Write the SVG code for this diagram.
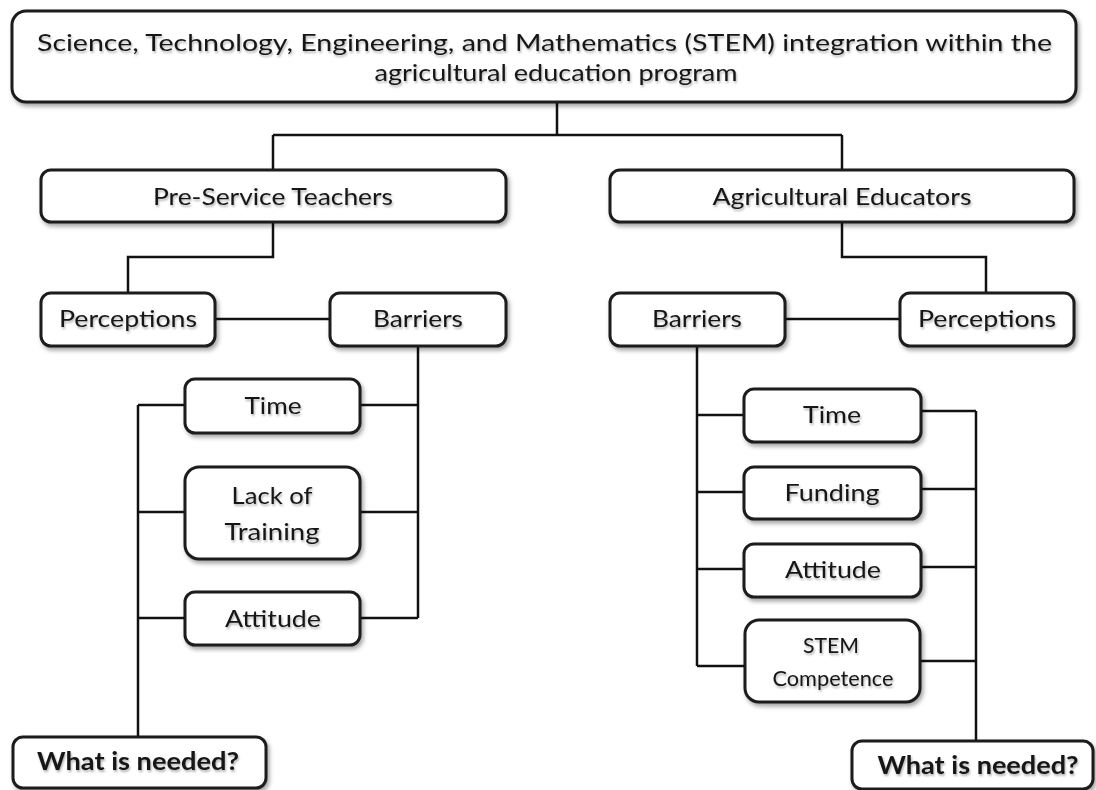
<svg xmlns="http://www.w3.org/2000/svg" width="1096" height="790" viewBox="0 0 1096 790">
<defs>
<filter id="bs" x="-10%" y="-30%" width="120%" height="160%">
<feDropShadow dx="2" dy="3" stdDeviation="2" flood-color="#000" flood-opacity="0.35"/>
</filter>
<filter id="ts" x="-10%" y="-40%" width="120%" height="180%">
<feDropShadow dx="1" dy="2" stdDeviation="1.2" flood-color="#000" flood-opacity="0.3"/>
</filter>
</defs>
<style>
.box{fill:#fff;stroke:#1c1c1c;stroke-width:3;filter:url(#bs)}
.t{font-family:Lato,"Open Sans","Liberation Sans",sans-serif;font-size:24px;fill:#161616;text-anchor:middle;filter:url(#ts)}
.s{font-size:21px}
.b{font-weight:bold;font-size:24px}
.c{fill:none;stroke:#111;stroke-width:2.5}
</style>
<rect width="1096" height="790" fill="#fff"/>
<g id="connectors">
<path class="c" d="M557,102V135M273,135H842M273,135V170M842,135V170"/>
<path class="c" d="M273,222V257H128V293"/>
<path class="c" d="M842,222V257H986V293"/>
<path class="c" d="M215,319H330M785,319H900"/>
<path class="c" d="M418,346V618M360,405H418M360,512H418M360,618H418"/>
<path class="c" d="M138,405V737M138,405H185M138,512H185M138,618H185"/>
<path class="c" d="M697,346V666M697,415H744M697,492H744M697,569H744M697,666H745"/>
<path class="c" d="M976,411V741M921,411H976M921,489H976M921,567H976M920,661H976"/>
</g>
<g id="top">
<rect class="box" x="12" y="11" width="1064" height="91" rx="14"/>
<text class="t" x="544.5" y="51" textLength="1015" lengthAdjust="spacingAndGlyphs">Science, Technology, Engineering, and Mathematics (STEM) integration within the</text>
<text class="t" x="556" y="81" textLength="363" lengthAdjust="spacingAndGlyphs">agricultural education program</text>
</g>
<g id="preservice">
<rect class="box" x="41" y="170" width="465" height="52" rx="10"/>
<text class="t" x="273" y="205" textLength="240" lengthAdjust="spacingAndGlyphs">Pre-Service Teachers</text>
</g>
<g id="agedu">
<rect class="box" x="610" y="170" width="464" height="52" rx="10"/>
<text class="t" x="842" y="205" textLength="259" lengthAdjust="spacingAndGlyphs">Agricultural Educators</text>
</g>
<g id="perceptions-left">
<rect class="box" x="41" y="293" width="174" height="53" rx="10"/>
<text class="t" x="128" y="327" textLength="138" lengthAdjust="spacingAndGlyphs">Perceptions</text>
</g>
<g id="barriers-left">
<rect class="box" x="330" y="293" width="176" height="53" rx="10"/>
<text class="t" x="418" y="327" textLength="90" lengthAdjust="spacingAndGlyphs">Barriers</text>
</g>
<g id="barriers-right">
<rect class="box" x="610" y="293" width="175" height="53" rx="10"/>
<text class="t" x="697" y="327" textLength="90" lengthAdjust="spacingAndGlyphs">Barriers</text>
</g>
<g id="perceptions-right">
<rect class="box" x="900" y="293" width="174" height="53" rx="10"/>
<text class="t" x="987" y="327" textLength="138" lengthAdjust="spacingAndGlyphs">Perceptions</text>
</g>
<g id="time-left">
<rect class="box" x="185" y="379" width="175" height="54" rx="10"/>
<text class="t" x="273" y="414" textLength="57" lengthAdjust="spacingAndGlyphs">Time</text>
</g>
<g id="training-left">
<rect class="box" x="185" y="467" width="175" height="92" rx="14"/>
<text class="t" x="272" y="504" textLength="81" lengthAdjust="spacingAndGlyphs">Lack of</text>
<text class="t" x="272" y="540" textLength="95" lengthAdjust="spacingAndGlyphs">Training</text>
</g>
<g id="attitude-left">
<rect class="box" x="185" y="592" width="175" height="53" rx="10"/>
<text class="t" x="273" y="627" textLength="96" lengthAdjust="spacingAndGlyphs">Attitude</text>
</g>
<g id="needed-left">
<rect class="box" x="13" y="737" width="253" height="51" rx="10"/>
<text class="t b" x="138" y="770" textLength="202" lengthAdjust="spacingAndGlyphs">What is needed?</text>
</g>
<g id="time-right">
<rect class="box" x="744" y="389" width="177" height="53" rx="10"/>
<text class="t" x="832" y="423" textLength="58" lengthAdjust="spacingAndGlyphs">Time</text>
</g>
<g id="funding-right">
<rect class="box" x="744" y="467" width="177" height="52" rx="10"/>
<text class="t" x="832" y="501" textLength="95" lengthAdjust="spacingAndGlyphs">Funding</text>
</g>
<g id="attitude-right">
<rect class="box" x="744" y="544" width="177" height="53" rx="10"/>
<text class="t" x="833" y="578" textLength="96" lengthAdjust="spacingAndGlyphs">Attitude</text>
</g>
<g id="stem-right">
<rect class="box" x="745" y="620" width="175" height="82" rx="14"/>
<text class="t s" x="831" y="653" textLength="56" lengthAdjust="spacingAndGlyphs">STEM</text>
<text class="t s" x="833" y="686" textLength="121" lengthAdjust="spacingAndGlyphs">Competence</text>
</g>
<g id="needed-right">
<rect class="box" x="852" y="741" width="241" height="48" rx="10"/>
<text class="t b" x="978" y="774" textLength="201" lengthAdjust="spacingAndGlyphs">What is needed?</text>
</g>
</svg>
